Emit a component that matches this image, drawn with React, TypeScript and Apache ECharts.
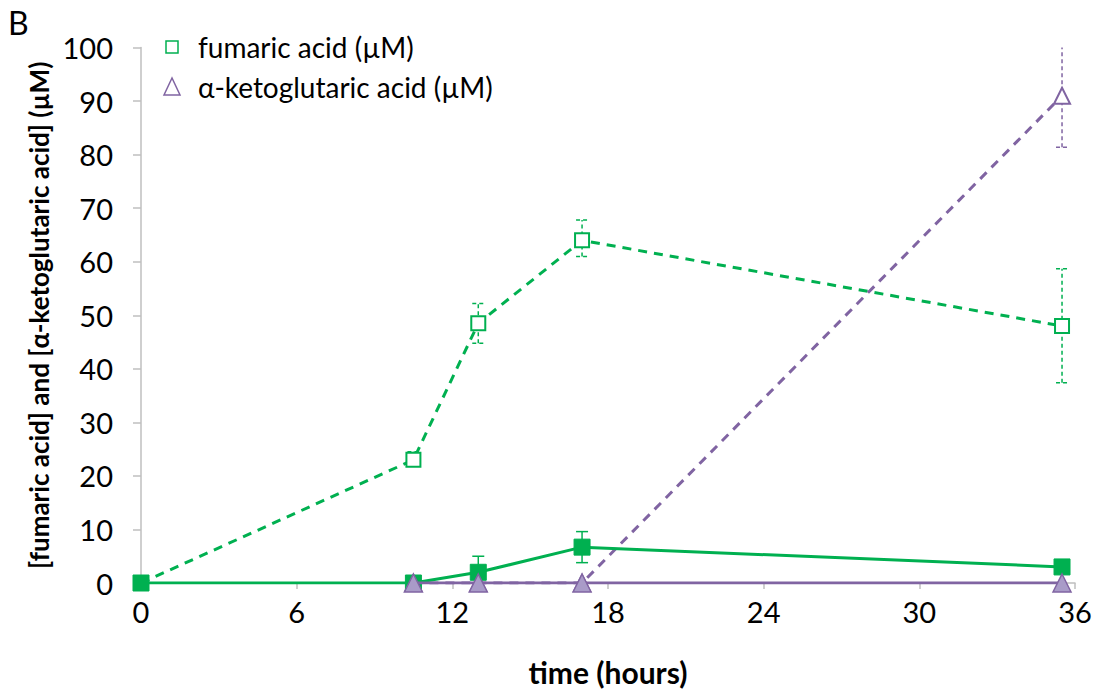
import React, { useEffect, useRef } from "react";
import * as echarts from "echarts";

const GREEN = "#00B050";
const PURPLE = "#8064A2";
const PURPLE_FILL = "#A99BC8";

const xTicks = [0, 6, 12, 18, 24, 30, 36];
const yMax = 100;

// open squares (dashed) – fumaric acid, condition 1
const fumaricOpen: [number, number][] = [[0, 0], [10.5, 23], [13, 48.5], [17, 64], [35.5, 48]];
const fumaricOpenErr: [number, number, number][] = [[10.5, 21.8, 24.5], [13, 44.8, 52.2], [17, 61, 67.8], [35.5, 37.4, 58.7]];
// open triangles (dashed) – alpha-ketoglutaric acid, condition 1
const akgOpen: [number, number][] = [[10.5, 0], [13, 0], [17, 0], [35.5, 91]];
const akgOpenErr: [number, number, number][] = [[35.5, 81.4, 104]];
// filled squares (solid) – fumaric acid, condition 2
const fumaricFilled: [number, number][] = [[0, 0], [10.5, 0], [13, 2], [17, 6.7], [35.5, 3]];
const fumaricFilledErr: [number, number, number][] = [[13, -1, 5], [17, 3.8, 9.6]];
// filled triangles (solid) – alpha-ketoglutaric acid, condition 2
const akgFilled: [number, number][] = [[10.5, 0], [13, 0], [17, 0], [35.5, 0]];

const FONT = "Lato, 'Open Sans', sans-serif";

function errSeries(data: [number, number, number][], color: string, dashed: boolean) {
  return {
    type: "custom",
    clip: true,
    silent: true,
    z: 1,
    data,
    renderItem: (params: any, api: any) => {
      const x = api.value(0);
      const lo = api.coord([x, api.value(1)]);
      const hi = api.coord([x, api.value(2)]);
      const cw = 6;
      const style = { stroke: color, lineWidth: 1.5, lineDash: dashed ? [4, 3] : null };
      return {
        type: "group",
        children: [
          { type: "line", shape: { x1: lo[0], y1: lo[1], x2: hi[0], y2: hi[1] }, style },
          { type: "line", shape: { x1: lo[0] - cw, y1: lo[1], x2: lo[0] + cw, y2: lo[1] }, style },
          { type: "line", shape: { x1: hi[0] - cw, y1: hi[1], x2: hi[0] + cw, y2: hi[1] }, style },
        ],
      };
    },
  };
}

export default function App() {
  const ref = useRef<HTMLDivElement>(null);
  useEffect(() => {
    if (!ref.current) return;
    const chart = echarts.init(ref.current, null, { renderer: "svg" });
    chart.setOption({
      animation: false,
      backgroundColor: "#fff",
      grid: { left: 141, right: 22, top: 47.6, bottom: 106.6, containLabel: false },
      xAxis: {
        type: "value",
        min: 0,
        max: 36,
        interval: 6,
        name: "time (hours)",
        nameLocation: "middle",
        nameGap: 74,
        nameTextStyle: { fontFamily: FONT, fontSize: 30, fontWeight: "bold", color: "#000" },
        axisLine: { show: true, lineStyle: { color: "#BFBFBF", width: 1.5 } },
        axisTick: { show: true, length: 6, lineStyle: { color: "#BFBFBF", width: 1.5 } },
        axisLabel: { fontFamily: FONT, fontSize: 29, color: "#000", margin: 14, formatter: (v: number) => (xTicks.includes(v) ? String(v) : "") },
        splitLine: { show: false },
      },
      yAxis: {
        type: "value",
        min: 0,
        max: yMax,
        interval: 10,
        name: "[fumaric acid] and [α-ketoglutaric acid] (µM)",
        nameLocation: "middle",
        nameGap: 81,
        nameTextStyle: { fontFamily: FONT, fontSize: 26, fontWeight: "bold", color: "#000" },
        axisLine: { show: true, lineStyle: { color: "#BFBFBF", width: 1.5 } },
        axisTick: { show: true, length: 8, lineStyle: { color: "#BFBFBF", width: 1.5 } },
        axisLabel: { fontFamily: FONT, fontSize: 29, color: "#000", margin: 28 },
        splitLine: { show: false },
      },
      graphic: [
        { type: "text", left: 8, top: 6, style: { text: "B", fontFamily: FONT, fontSize: 32, fill: "#000" } },
        { type: "rect", shape: { x: 166, y: 41, width: 12, height: 12 }, style: { fill: "none", stroke: GREEN, lineWidth: 1.5 } },
        { type: "text", x: 198, y: 47, style: { text: "fumaric acid (µM)", fontFamily: FONT, fontSize: 28, fill: "#000", verticalAlign: "middle" } },
        { type: "polygon", shape: { points: [[172, 78], [164, 95], [180, 95]] }, style: { fill: "none", stroke: PURPLE, lineWidth: 1.5 } },
        { type: "text", x: 198, y: 87, style: { text: "α-ketoglutaric acid (µM)", fontFamily: FONT, fontSize: 28, fill: "#000", verticalAlign: "middle" } },
      ],
      series: [
        errSeries(fumaricOpenErr, GREEN, true),
        errSeries(akgOpenErr, PURPLE, true),
        errSeries(fumaricFilledErr, GREEN, false),
        {
          name: "fumaric acid (µM)",
          type: "line",
          data: fumaricOpen,
          symbol: "rect",
          symbolSize: 14,
          showAllSymbol: true,
          lineStyle: { color: GREEN, width: 3, type: [9, 7] },
          itemStyle: { color: "#fff", borderColor: GREEN, borderWidth: 2 },
          z: 3,
        },
        {
          name: "α-ketoglutaric acid (µM)",
          type: "line",
          data: akgOpen,
          symbol: "triangle",
          symbolSize: 16,
          lineStyle: { color: PURPLE, width: 3, type: [9, 7] },
          itemStyle: { color: "#fff", borderColor: PURPLE, borderWidth: 2 },
          z: 3,
        },
        {
          name: "fumaric acid filled",
          type: "line",
          data: fumaricFilled,
          symbol: "rect",
          symbolSize: 16,
          lineStyle: { color: GREEN, width: 3 },
          itemStyle: { color: GREEN, borderColor: GREEN, borderWidth: 1 },
          z: 4,
        },
        {
          name: "α-ketoglutaric acid filled",
          type: "line",
          data: akgFilled,
          symbol: "triangle",
          symbolSize: 18,
          lineStyle: { color: PURPLE, width: 3 },
          itemStyle: { color: PURPLE_FILL, borderColor: PURPLE, borderWidth: 1.5 },
          z: 5,
        },
      ],
    });
    return () => chart.dispose();
  }, []);
  return (
    <div
      ref={ref}
      style={{ position: "fixed", left: 0, top: 0, width: 1097, height: 692 }}
    />
  );
}
